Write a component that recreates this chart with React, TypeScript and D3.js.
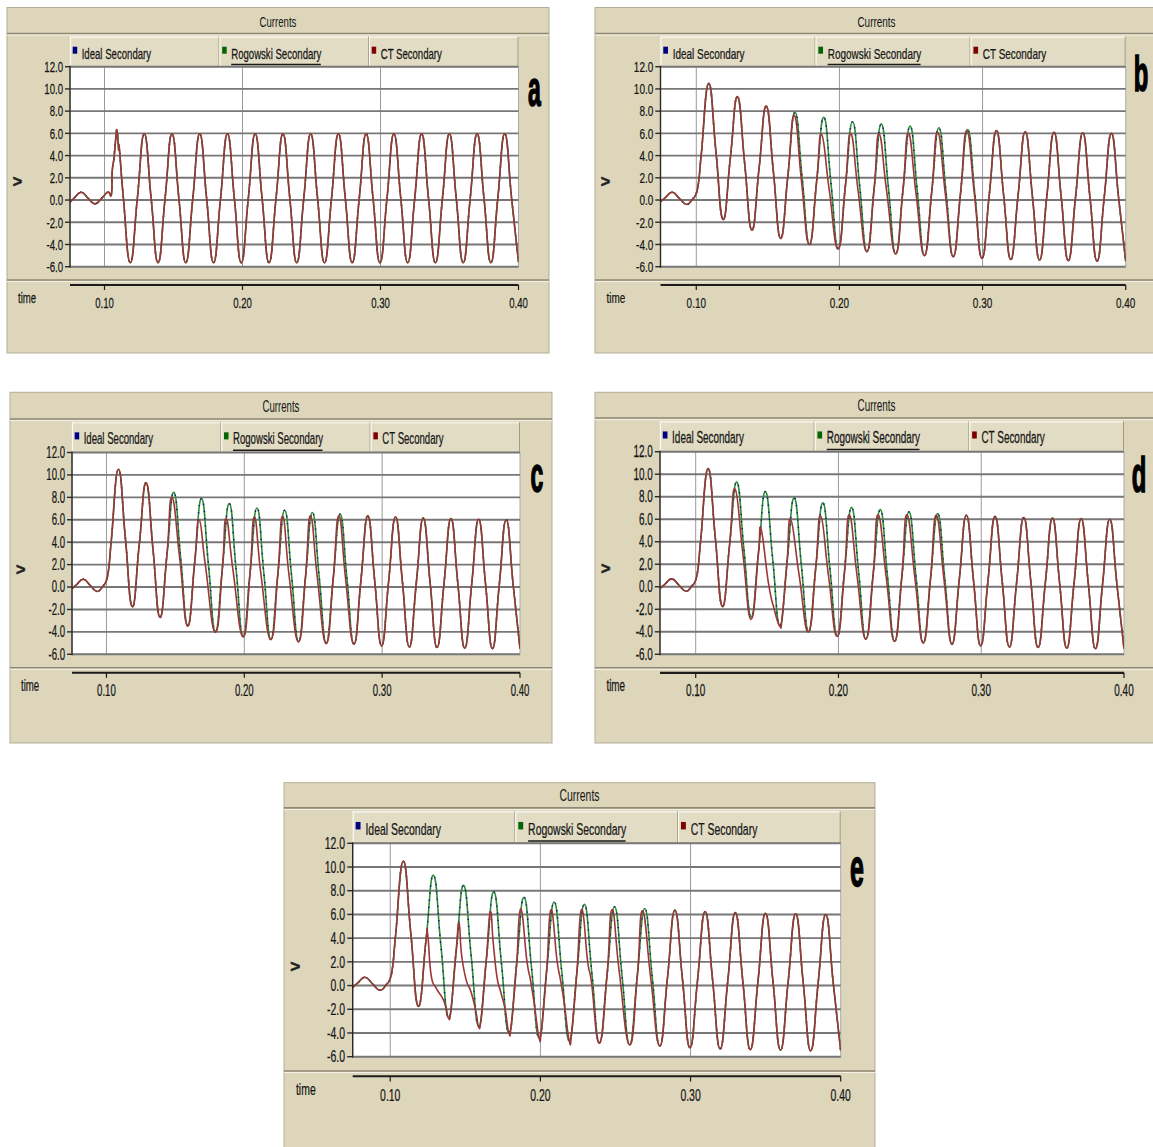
import React from "react";
import * as d3 from "d3";

type Pt = [number, number];

const xDomain: [number, number] = [0.075, 0.4];
const yDomain: [number, number] = [-6, 12];
const yTicks = [12, 10, 8, 6, 4, 2, 0, -2, -4, -6];
const yTickLabels = ["12.0", "10.0", "8.0", "6.0", "4.0", "2.0", "0.0", "-2.0", "-4.0", "-6.0"];
const xTicks = [0.1, 0.2, 0.3, 0.4];
const xTickLabels = ["0.10", "0.20", "0.30", "0.40"];
const seriesNames = ["Ideal Secondary", "Rogowski Secondary", "CT Secondary"];
const titleText = "Currents";
const xAxisName = "time";
const yAxisName = ">";

// Panel a: all three secondaries coincide
const idealA: Pt[] = [
  [0.075, -0.2], [0.0782, 0.2], [0.0832, 0.7], [0.0882, 0.15], [0.0932, -0.35], [0.0982, 0.2], [0.1025, 0.72], [0.105, 0.5],
  [0.1056, 2.6], [0.1068, 3.7], [0.1082, 5.6], [0.109, 6.3], [0.1098, 5.3], [0.1103, 4.5], [0.1108, 4.6],
  [0.1137, 0.15], [0.1187, -5.65],
  [0.1238, 0.15], [0.1288, 5.95], [0.1338, 0.15], [0.1388, -5.65],
  [0.1439, 0.15], [0.1489, 5.95], [0.1539, 0.15], [0.1589, -5.65],
  [0.164, 0.15], [0.169, 5.95], [0.174, 0.15], [0.179, -5.65],
  [0.1841, 0.15], [0.1891, 5.95], [0.1941, 0.15], [0.1991, -5.65],
  [0.2042, 0.15], [0.2092, 5.95], [0.2142, 0.15], [0.2192, -5.65],
  [0.2243, 0.15], [0.2293, 5.95], [0.2343, 0.15], [0.2393, -5.65],
  [0.2444, 0.15], [0.2494, 5.95], [0.2544, 0.15], [0.2594, -5.65],
  [0.2645, 0.15], [0.2695, 5.95], [0.2745, 0.15], [0.2795, -5.65],
  [0.2846, 0.15], [0.2896, 5.95], [0.2946, 0.15], [0.2996, -5.65],
  [0.3047, 0.15], [0.3097, 5.95], [0.3147, 0.15], [0.3197, -5.65],
  [0.3248, 0.15], [0.3298, 5.95], [0.3348, 0.15], [0.3398, -5.65],
  [0.3449, 0.15], [0.3499, 5.95], [0.3549, 0.15], [0.3599, -5.65],
  [0.365, 0.15], [0.37, 5.95], [0.375, 0.15], [0.38, -5.65],
  [0.385, 0.15], [0.39, 5.95], [0.395, 0.15], [0.4, -5.6],
];
const rogowskiA: Pt[] = idealA;
const ctA: Pt[] = idealA;

// Panels b-e: asymmetrical fault current (same primary), ideal = Rogowski
const idealBE: Pt[] = [
  [0.075, -0.15], [0.0782, 0.2], [0.0832, 0.7], [0.0882, 0.15], [0.0932, -0.4], [0.0975, 0.1], [0.1, 0.6],
  [0.1018, 1.8], [0.1037, 4.4], [0.1087, 10.5],
  [0.1137, 4.4], [0.1187, -1.75],
  [0.1238, 3.8], [0.1288, 9.3], [0.1338, 3.3], [0.1388, -2.7],
  [0.1439, 2.9], [0.1489, 8.45], [0.1539, 2.5], [0.1589, -3.45],
  [0.164, 2.2], [0.169, 7.9], [0.174, 1.95], [0.179, -4.0],
  [0.1841, 1.7], [0.1891, 7.45], [0.1941, 1.5], [0.1991, -4.4],
  [0.2042, 1.3], [0.2092, 7.05], [0.2142, 1.2], [0.2192, -4.65],
  [0.2243, 1.1], [0.2293, 6.85], [0.2343, 1.0], [0.2393, -4.85],
  [0.2444, 0.9], [0.2494, 6.65], [0.2544, 0.8], [0.2594, -5.0],
  [0.2645, 0.75], [0.2695, 6.5], [0.2745, 0.7], [0.2795, -5.1],
  [0.2846, 0.6], [0.2896, 6.35], [0.2946, 0.55], [0.2996, -5.25],
  [0.3047, 0.5], [0.3097, 6.25], [0.3147, 0.45], [0.3197, -5.35],
  [0.3248, 0.4], [0.3298, 6.15], [0.3348, 0.38], [0.3398, -5.4],
  [0.3449, 0.35], [0.3499, 6.1], [0.3549, 0.33], [0.3599, -5.45],
  [0.365, 0.3], [0.37, 6.05], [0.375, 0.28], [0.38, -5.5],
  [0.385, 0.25], [0.39, 6.0], [0.395, 0.25], [0.4, -5.5],
];
const rogowskiBE: Pt[] = idealBE;

// CT secondary: only the cycles where it departs from the ideal waveform
const ctBDeviation: Pt[] = [
  [0.1685, 7.6], [0.1735, 1.7], [0.179, -4.0],
  [0.1841, 1.7], [0.1875, 5.9], [0.1928, 1.0], [0.1991, -4.4],
  [0.2042, 1.3], [0.2079, 6.0], [0.213, 0.9], [0.2192, -4.65],
  [0.2243, 1.1], [0.2277, 5.95], [0.233, 0.8], [0.2393, -4.85],
  [0.2444, 0.9], [0.2482, 6.0], [0.2535, 0.6], [0.2594, -5.0],
  [0.2645, 0.75], [0.2686, 6.1], [0.274, 0.55], [0.2795, -5.1],
  [0.2846, 0.6], [0.289, 6.25], [0.2943, 0.5], [0.2996, -5.25],
];
const ctCDeviation: Pt[] = [
  [0.1475, 8.0], [0.1532, 2.5], [0.1589, -3.5],
  [0.164, 2.2], [0.1672, 6.0], [0.1718, 1.9], [0.179, -4.05],
  [0.1841, 1.7], [0.1868, 6.1], [0.1918, 1.5], [0.1991, -4.45],
  [0.2042, 1.3], [0.2073, 6.25], [0.212, 1.2], [0.2192, -4.7],
  [0.2243, 1.1], [0.2278, 6.3], [0.2325, 1.0], [0.2393, -4.9],
  [0.2444, 0.9], [0.248, 6.35], [0.253, 0.8], [0.2594, -5.05],
  [0.2645, 0.75], [0.2686, 6.35], [0.2735, 0.7], [0.2795, -5.1],
];
const ctDDeviation: Pt[] = [
  [0.1275, 8.7], [0.133, 3.0], [0.1388, -2.9],
  [0.1439, 2.9], [0.1458, 5.1], [0.151, 0.3], [0.155, -2.0], [0.1589, -3.5], [0.1606, -2.65],
  [0.164, 2.2], [0.1665, 6.0], [0.1725, 1.0], [0.179, -4.0],
  [0.1841, 1.7], [0.1875, 6.3], [0.193, 1.0], [0.1991, -4.4],
  [0.2042, 1.3], [0.2076, 6.4], [0.213, 1.0], [0.2192, -4.65],
  [0.2243, 1.1], [0.2278, 6.4], [0.2335, 0.8], [0.2393, -4.85],
  [0.2444, 0.9], [0.248, 6.4], [0.2537, 0.6], [0.2594, -5.0],
  [0.2645, 0.75], [0.2685, 6.35], [0.274, 0.55], [0.2795, -5.1],
];
const ctEDeviation: Pt[] = [
  [0.125, 4.25], [0.1272, 0.9], [0.1305, -0.2], [0.135, -1.1], [0.1372, -1.9], [0.1388, -2.75], [0.1405, -1.95],
  [0.1439, 2.9], [0.1458, 5.3], [0.1475, 2.6], [0.1505, 0.5], [0.154, -0.6], [0.1572, -2.3], [0.1589, -3.5], [0.1606, -2.65],
  [0.164, 2.2], [0.1666, 6.2], [0.1686, 3.6], [0.171, 0.8], [0.1735, -0.5], [0.1765, -2.0], [0.179, -4.0], [0.1807, -3.2],
  [0.1841, 1.7], [0.1868, 6.45], [0.191, 2.1], [0.1935, 0.4], [0.196, -1.6], [0.1991, -4.4], [0.2008, -3.6],
  [0.2042, 1.3], [0.207, 6.4], [0.211, 2.2], [0.2135, 0.4], [0.216, -1.6], [0.2192, -4.65], [0.2209, -3.85],
  [0.2243, 1.1], [0.2274, 6.4], [0.2315, 2.0], [0.234, 0.3], [0.2393, -4.85],
  [0.2444, 0.9], [0.2477, 6.4], [0.2525, 1.2], [0.2594, -5.0],
  [0.2645, 0.75], [0.268, 6.3], [0.2735, 0.6], [0.2795, -5.1],
];

function withDeviation(base: Pt[], dev: Pt[]): Pt[] {
  const t0 = dev[0][0];
  const t1 = dev[dev.length - 1][0];
  return [...base.filter((p) => p[0] < t0), ...dev, ...base.filter((p) => p[0] > t1)];
}
const ctB = withDeviation(idealBE, ctBDeviation);
const ctC = withDeviation(idealBE, ctCDeviation);
const ctD = withDeviation(idealBE, ctDDeviation);
const ctE = withDeviation(idealBE, ctEDeviation);

const COL_IDEAL = "#101070";
const COL_ROG = "#2f8c3c";
const COL_CT = "#9c3638";
const MARK_COLORS = ["#000080", "#006400", "#800000"];
const BG = "#ddd6bb";
const FONT = "'Liberation Sans', Arial, Helvetica, sans-serif";

type PanelDef = {
  id: string;
  outer: [number, number, number, number];
  plot: [number, number, number, number];
  letter: [number, number];
  ideal: Pt[];
  rog: Pt[];
  ct: Pt[];
};

const panels: PanelDef[] = [
  { id: "a", outer: [7, 7.5, 549, 353], plot: [70, 66.7, 518.5, 266.7], letter: [534.5, 106], ideal: idealA, rog: rogowskiA, ct: ctA },
  { id: "b", outer: [595, 7.5, 1158, 353], plot: [660.5, 66.7, 1125.7, 266.7], letter: [1141, 91], ideal: idealBE, rog: rogowskiBE, ct: ctB },
  { id: "c", outer: [10, 392.3, 552, 743], plot: [72, 452.5, 520, 654.3], letter: [537, 492], ideal: idealBE, rog: rogowskiBE, ct: ctC },
  { id: "d", outer: [595, 392.3, 1158, 743], plot: [660, 451.7, 1124, 654.3], letter: [1139, 492], ideal: idealBE, rog: rogowskiBE, ct: ctD },
  { id: "e", outer: [284, 782.7, 875, 1160], plot: [352.7, 843.3, 840.7, 1056.7], letter: [857, 886], ideal: idealBE, rog: rogowskiBE, ct: ctE },
];

function CText(props: {
  x: number; y: number; size: number; sx: number; anchor?: string; weight?: number | string;
  children: React.ReactNode; fill?: string; stroke?: string; strokeWidth?: number;
}) {
  const { x, y, size, sx, anchor = "start", weight = 400, children, fill = "#161616", stroke, strokeWidth } = props;
  return (
    <text
      transform={`translate(${x},${y}) scale(${sx},1)`}
      fontSize={size}
      fontWeight={weight}
      textAnchor={anchor as any}
      fontFamily={FONT}
      fill={fill}
      stroke={stroke}
      strokeWidth={strokeWidth}
    >
      {children}
    </text>
  );
}

function Panel({ p }: { p: PanelDef }) {
  const [ox0, oy0, ox1, oy1] = p.outer;
  const [l, t, r, b] = p.plot;
  const s = (b - t) / 200;
  const hx = (r - l) / 448.5;
  const sx = (0.62 * hx) / s;
  const fs = 15.5 * s;
  const x = d3.scaleLinear().domain(xDomain).range([l, r]);
  const y = d3.scaleLinear().domain(yDomain).range([b, t]);
  const line = d3
    .line<Pt>()
    .x((d) => x(d[0]))
    .y((d) => y(d[1]))
    .curve(d3.curveCardinal.tension(-0.45));
  const cw = (r - l) / 3;
  const titleLine = t - 33.2 * s;
  const legTop = t - 30 * s;
  const sepY = b + 13.3 * s;
  const axisY = b + 18.3 * s;
  const clipId = `clip-${p.id}`;
  const legendTextW = [66.7, 89.6, 59];

  return (
    <g>
      <defs>
        <clipPath id={clipId}>
          <rect x={l} y={t - 2} width={r - l} height={b - t + 4} />
        </clipPath>
      </defs>
      <rect x={ox0} y={oy0} width={ox1 - ox0} height={oy1 - oy0} fill={BG} stroke="#b3ad98" strokeWidth={1} />
      {/* title bar */}
      <CText x={(ox0 + ox1) / 2} y={titleLine - 6.8 * s} size={fs} sx={sx} anchor="middle">
        {titleText}
      </CText>
      <line x1={ox0} x2={ox1} y1={titleLine} y2={titleLine} stroke="#8e8874" strokeWidth={1.6} />
      <line x1={ox0} x2={ox1} y1={titleLine + 1.6} y2={titleLine + 1.6} stroke="#f4f1e6" strokeWidth={1} />
      {/* legend */}
      {seriesNames.map((name, i) => {
        const cx0 = l + i * cw;
        const tx = cx0 + 11.7 * hx;
        const base = t - 8.2 * s;
        return (
          <g key={name}>
            <rect x={cx0} y={legTop} width={cw} height={t - legTop - 1} fill="#e2dcc4" />
            <line x1={cx0} x2={cx0 + cw} y1={legTop + 0.5} y2={legTop + 0.5} stroke="#fbfaf4" strokeWidth={1.2} />
            <line x1={cx0 + 0.5} x2={cx0 + 0.5} y1={legTop} y2={t - 1} stroke="#fbfaf4" strokeWidth={1.2} />
            <line x1={cx0 + cw - 0.5} x2={cx0 + cw - 0.5} y1={legTop} y2={t - 1} stroke="#a29c86" strokeWidth={1} />
            <rect x={cx0 + 2.7 * hx} y={t - 20 * s} width={4.5 * hx} height={7 * s} fill={MARK_COLORS[i]} />
            <CText x={tx} y={base} size={fs} sx={sx} stroke="#161616" strokeWidth={0.25}>
              {name}
            </CText>
            {i === 1 && (
              <line x1={tx} x2={tx + legendTextW[i] * hx} y1={t - 2.2} y2={t - 2.2} stroke="#1a1a1a" strokeWidth={1.5} />
            )}
          </g>
        );
      })}
      {/* plot area */}
      <rect x={l} y={t} width={r - l} height={b - t} fill="#ffffff" stroke="#a9a9a9" strokeWidth={1} />
      {xTicks.slice(0, 3).map((v) => (
        <line key={v} x1={x(v)} x2={x(v)} y1={t} y2={b} stroke="#9a9a9a" strokeWidth={1} />
      ))}
      {yTicks.map((v) => (
        <line key={v} x1={l} x2={r} y1={y(v)} y2={y(v)} stroke="#777777" strokeWidth={1.9} />
      ))}
      <g clipPath={`url(#${clipId})`} fill="none" strokeLinejoin="round">
        <path d={line(p.rog) || ""} stroke={COL_ROG} strokeWidth={1.6} />
        <path d={line(p.ideal) || ""} stroke={COL_IDEAL} strokeWidth={1.5} strokeDasharray="1.2 6" />
        <path d={line(p.ct) || ""} stroke={COL_CT} strokeWidth={1.6} />
      </g>
      <line x1={l} x2={l} y1={t - 1} y2={b + 1} stroke="#2a2a2a" strokeWidth={1.4} />
      {yTicks.map((v, i) => (
        <g key={v}>
          <line x1={l - 5 * hx} x2={l} y1={y(v)} y2={y(v)} stroke="#2a2a2a" strokeWidth={1.4} />
          <CText x={l - 7 * hx} y={y(v) + 5.3 * s} size={fs} sx={sx} anchor="end" stroke="#161616" strokeWidth={0.25}>
            {yTickLabels[i]}
          </CText>
        </g>
      ))}
      <g transform={`translate(${ox0 + 10.5 * s},${t + 115 * s})`}>
        <text fontSize={16 * s} fontWeight={700} fontFamily={FONT} textAnchor="middle" dominantBaseline="central" fill="#222" stroke="#222" strokeWidth={0.6}>
          {yAxisName}
        </text>
      </g>
      {/* letter */}
      <CText x={p.letter[0]} y={p.letter[1]} size={50 * s} sx={(0.46 * hx) / s} anchor="middle" weight={700} fill="#000" stroke="#000" strokeWidth={1.6}>
        {p.id}
      </CText>
      {/* bottom separator and time axis */}
      <line x1={ox0} x2={ox1} y1={sepY} y2={sepY} stroke="#8e8874" strokeWidth={1.5} />
      <line x1={ox0} x2={ox1} y1={sepY + 1.6} y2={sepY + 1.6} stroke="#f4f1e6" strokeWidth={1} />
      <line x1={l} x2={r} y1={axisY} y2={axisY} stroke="#1c1c1c" strokeWidth={2.2} />
      {xTicks.map((v, i) => (
        <g key={v}>
          <line x1={x(v)} x2={x(v)} y1={axisY} y2={axisY + 5 * s} stroke="#1c1c1c" strokeWidth={1.2} />
          <CText x={x(v)} y={b + 41.6 * s} size={fs} sx={sx} anchor="middle" stroke="#161616" strokeWidth={0.25}>
            {xTickLabels[i]}
          </CText>
        </g>
      ))}
      <CText x={ox0 + 11 * hx} y={b + 36.3 * s} size={fs} sx={sx} stroke="#161616" strokeWidth={0.25}>
        {xAxisName}
      </CText>
    </g>
  );
}

export default function App() {
  return (
    <svg width={1153} height={1147} style={{ position: "absolute", left: 0, top: 0, background: "#ffffff" }}>
      <rect x={0} y={0} width={1153} height={1147} fill="#ffffff" />
      {panels.map((p) => (
        <Panel key={p.id} p={p} />
      ))}
    </svg>
  );
}
